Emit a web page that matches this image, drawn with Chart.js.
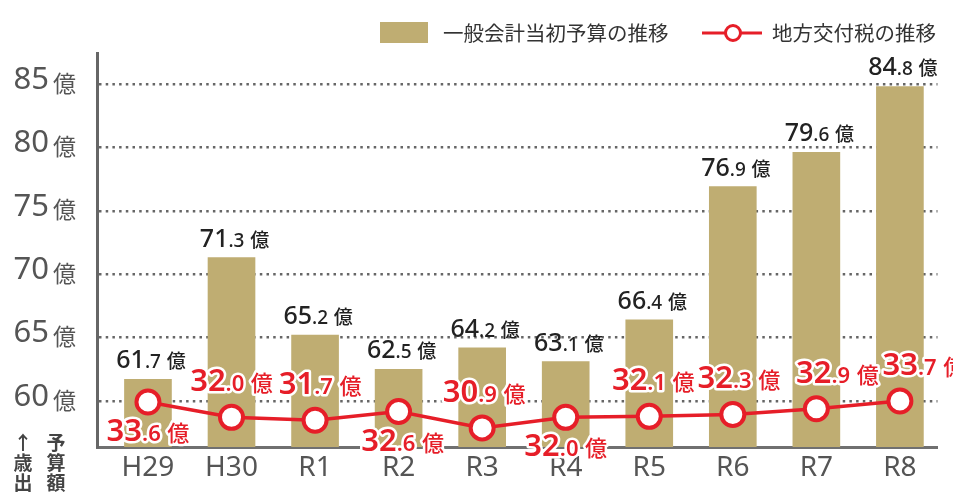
<!DOCTYPE html>
<html lang="ja">
<head>
<meta charset="utf-8">
<script src="https://cdn.jsdelivr.net/npm/chart.js@4"></script>
<style>
  html, body { margin: 0; padding: 0; background: #fff; }
</style>
</head>
<body>
<canvas id="chart" width="953" height="495"></canvas>
<script>
// ── Data ──────────────────────────────────────────────────────────────────────
const CATEGORIES = ['H29', 'H30', 'R1', 'R2', 'R3', 'R4', 'R5', 'R6', 'R7', 'R8'];
const BUDGET = [61.7, 71.3, 65.2, 62.5, 64.2, 63.1, 66.4, 76.9, 79.6, 84.8];
const KOFUZEI = [33.6, 32.0, 31.7, 32.6, 30.9, 32.0, 32.1, 32.3, 32.9, 33.7];
const Y_TICKS = [60, 65, 70, 75, 80, 85];
const SERIES_NAMES = ['一般会計当初予算の推移', '地方交付税の推移'];
const UNIT = '億';
const AXIS_CAPTION = [['↑', '歳', '出'], ['予', '算', '額']];

// label placement for the red values (side of the point + horizontal nudge)
const KOFUZEI_LABEL_SIDE = ['below', 'above', 'above', 'below', 'above', 'below', 'above', 'above', 'above', 'above'];
const KOFUZEI_LABEL_DX = [0, 0, 5, 4, 2, 0, 4, 6, 21, 24];

const BAR_COLOR = '#bfad72';
const RED = '#e61e28';
const NUM_FONT = '"Noto Sans", "Open Sans", sans-serif';
const JP_FONT = '"Noto Sans CJK JP", sans-serif';

// ── Helpers ───────────────────────────────────────────────────────────────────

// "61.7 億" with big integer part, small decimals and unit
function drawSplitValue(ctx, value, cx, baseline, sizes, color, outline, weight) {
  const [intPart, decPart] = value.toFixed(1).split('.');
  const parts = [
    { text: intPart, font: `${weight} ${sizes[0]}px ${NUM_FONT}`, gap: 0 },
    { text: '.' + decPart, font: `${weight} ${sizes[1]}px ${NUM_FONT}`, gap: 0 },
    { text: UNIT, font: `500 ${sizes[2]}px ${JP_FONT}`, gap: sizes[2] * 0.3 },
  ];
  let total = 0;
  parts.forEach(p => {
    ctx.font = p.font;
    p.w = ctx.measureText(p.text).width;
    total += p.w + p.gap;
  });
  let x = cx - total / 2;
  ctx.save();
  ctx.textAlign = 'left';
  ctx.textBaseline = 'alphabetic';
  ctx.lineJoin = 'round';
  parts.forEach(p => {
    x += p.gap;
    ctx.font = p.font;
    if (outline) {
      ctx.strokeStyle = '#fff';
      ctx.lineWidth = 5;
      ctx.strokeText(p.text, x, baseline);
    }
    ctx.fillStyle = color;
    ctx.fillText(p.text, x, baseline);
    x += p.w;
  });
  ctx.restore();
}

// ── Plugins ───────────────────────────────────────────────────────────────────

const valueLabels = {
  id: 'valueLabels',
  afterDatasetsDraw(chart) {
    const ctx = chart.ctx;
    const bars = chart.getDatasetMeta(1).data;
    bars.forEach((bar, i) => {
      drawSplitValue(ctx, BUDGET[i], bar.x + 3, bar.y - 11, [25, 19, 19], '#222', false, 500);
    });
    const pts = chart.getDatasetMeta(0).data;
    pts.forEach((pt, i) => {
      const below = KOFUZEI_LABEL_SIDE[i] === 'below';
      const y = below ? pt.y + 39 : pt.y - 26;
      drawSplitValue(ctx, KOFUZEI[i], pt.x + KOFUZEI_LABEL_DX[i], y, [31, 22, 22], RED, true, 600);
    });
  }
};

const decorations = {
  id: 'decorations',
  afterDraw(chart) {
    const ctx = chart.ctx;
    const yScale = chart.scales.y;
    ctx.save();

    // y tick labels: "85 億"
    Y_TICKS.forEach(v => {
      const y = yScale.getPixelForValue(v) - 4;
      ctx.textBaseline = 'middle';
      ctx.fillStyle = '#555';
      ctx.textAlign = 'right';
      ctx.font = `31px ${NUM_FONT}`;
      ctx.fillText(String(v), 49, y);
      ctx.textAlign = 'left';
      ctx.font = `23px ${JP_FONT}`;
      ctx.fillText(UNIT, 53, y + 3);
    });

    // vertical axis caption bottom-left
    ctx.fillStyle = '#444';
    ctx.textAlign = 'center';
    ctx.textBaseline = 'middle';
    ctx.font = `bold 19px ${JP_FONT}`;
    AXIS_CAPTION.forEach((col, c) => {
      col.forEach((ch, r) => {
        ctx.fillText(ch, 23 + c * 33, 443 + r * 20);
      });
    });

    // legend
    const ly = 33;
    ctx.fillStyle = BAR_COLOR;
    ctx.fillRect(380, 22, 48, 21);
    ctx.fillStyle = '#333';
    ctx.textAlign = 'left';
    ctx.font = `20.5px ${JP_FONT}`;
    ctx.fillText(SERIES_NAMES[0], 443, ly);

    ctx.strokeStyle = RED;
    ctx.lineWidth = 3;
    ctx.beginPath();
    ctx.moveTo(702, ly);
    ctx.lineTo(762, ly);
    ctx.stroke();
    ctx.beginPath();
    ctx.arc(733, ly, 7.5, 0, Math.PI * 2);
    ctx.fillStyle = '#fff';
    ctx.fill();
    ctx.stroke();
    ctx.fillStyle = '#333';
    ctx.fillText(SERIES_NAMES[1], 772, ly);

    ctx.restore();
  }
};

// ── Chart ─────────────────────────────────────────────────────────────────────

const ctx = document.getElementById('chart').getContext('2d');
new Chart(ctx, {
  data: {
    datasets: [
      {
        type: 'line',
        label: SERIES_NAMES[1],
        data: KOFUZEI.map((v, i) => ({ x: i, y: v })),
        yAxisID: 'y1',
        borderColor: RED,
        borderWidth: 3.5,
        pointRadius: 11.5,
        pointBorderWidth: 4,
        pointBackgroundColor: '#fff',
        pointBorderColor: RED,
        tension: 0,
        clip: false,
        order: 0,
      },
      {
        type: 'bar',
        label: SERIES_NAMES[0],
        data: BUDGET.map((v, i) => ({ x: i, y: v })),
        yAxisID: 'y',
        backgroundColor: BAR_COLOR,
        barThickness: 47,
        order: 1,
      },
    ],
  },
  options: {
    responsive: false,
    animation: false,
    devicePixelRatio: 1,
    layout: { padding: { top: 53, right: 13, left: 0, bottom: 0 } },
    plugins: { legend: { display: false }, tooltip: { enabled: false } },
    scales: {
      x: {
        type: 'linear',
        offset: false,
        min: -0.61,
        max: 9.45,
        afterBuildTicks: s => { s.ticks = CATEGORIES.map((_, i) => ({ value: i })); },
        afterFit: s => { s.height = 48; },
        grid: { display: false, drawTicks: false, offset: false },
        border: { display: true, color: '#707070', width: 3 },
        ticks: {
          callback: v => CATEGORIES[v],
          font: { family: NUM_FONT, size: 28 },
          color: '#555',
          padding: 4,
          autoSkip: false,
          maxRotation: 0,
        },
      },
      y: {
        min: 56.37,
        max: 87.44,
        afterBuildTicks: s => { s.ticks = Y_TICKS.map(v => ({ value: v })); },
        afterFit: s => { s.width = 97; },
        ticks: { display: false },
        grid: { color: '#666', lineWidth: 2.5, drawTicks: false },
        border: { display: true, color: '#666', width: 3, dash: [2.5, 4.2] },
      },
      y1: {
        display: false,
        min: 28.91,
        max: 69.95,
      },
    },
  },
  plugins: [valueLabels, decorations],
});
</script>
</body>
</html>
